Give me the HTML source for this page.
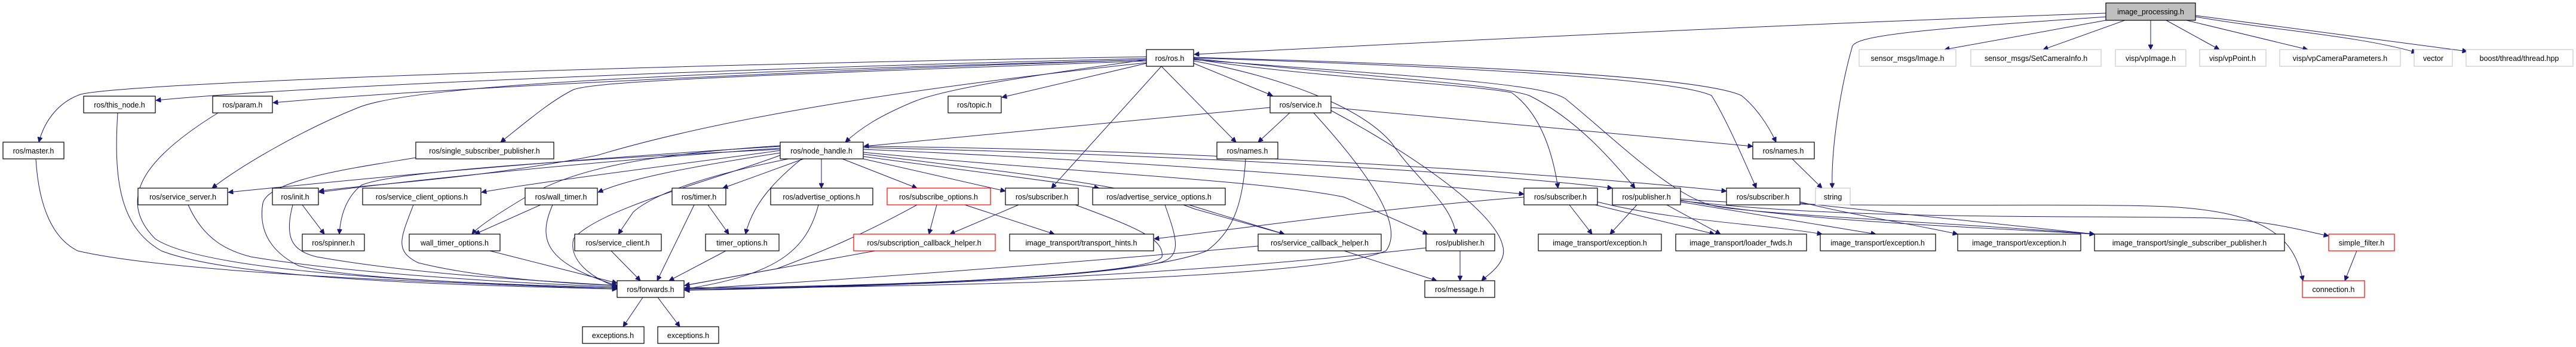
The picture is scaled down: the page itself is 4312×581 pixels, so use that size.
<!DOCTYPE html>
<html><head><meta charset="utf-8"><style>
html,body{margin:0;padding:0;background:#fff;}
svg{display:block;}
text{font-family:"Liberation Sans",sans-serif;font-size:12.5px;fill:#000;text-anchor:middle;}
.n{fill:#fff;stroke:#000;stroke-width:1.2;}
.g{fill:#fff;stroke:#bfbfbf;stroke-width:1;}
.r{fill:#fff;stroke:#ff0000;stroke-width:1.2;}
path{fill:none;stroke:#191970;stroke-width:1;marker-end:url(#a);}
</style></head><body>
<svg width="4312" height="581" viewBox="0 0 4312 581" xmlns="http://www.w3.org/2000/svg">
<defs><marker id="a" viewBox="0 0 10 10" refX="10" refY="5" markerWidth="10" markerHeight="8" markerUnits="userSpaceOnUse" orient="auto"><path d="M0,0 L10,5 L0,10 z" style="fill:#191970;stroke:#191970;marker-end:none"/></marker></defs>
<g>
<path d="M3525,22 C3000,40 2400,70 1999,91"/>
<path d="M3528,28 C3200,50 3100,60 3100,80 C3080,150 3065,250 3067,315"/>
<path d="M3525,34 L3255,83"/>
<path d="M3557,34 L3420,83"/>
<path d="M3600,34 L3600,83"/>
<path d="M3626,34 L3715,83"/>
<path d="M3660,34 L3863,83"/>
<path d="M3675,28 C3800,50 3950,60 4045,88"/>
<path d="M3675,26 L4130,86"/>
<path d="M1919,95 C1000,110 200,140 135,158 C100,170 75,200 65,238"/>
<path d="M1919,98 C1200,115 500,145 261,168"/>
<path d="M1919,100 C1300,120 700,150 457,172"/>
<path d="M1919,100 C1200,120 700,140 600,180 C500,220 400,280 355,315"/>
<path d="M1919,102 C1300,125 1000,135 960,150 C920,170 880,205 838,238"/>
<path d="M1919,105 C1500,150 1200,200 1000,260 C800,300 600,310 534,320"/>
<path d="M1919,100 C1700,130 1580,150 1530,170 C1470,195 1440,215 1415,238"/>
<path d="M1919,106 L1677,163"/>
<path d="M1998,106 L2130,160"/>
<path d="M1944,111 L2069,238"/>
<path d="M1944,111 L1760,315"/>
<path d="M1998,102 C2150,130 2280,180 2330,240 C2370,300 2430,340 2437,392"/>
<path d="M1998,99 C2200,130 2450,140 2530,155 C2580,190 2600,260 2608,315"/>
<path d="M1998,98 C2300,130 2500,140 2560,160 C2640,200 2700,270 2737,315"/>
<path d="M1998,97 C2400,110 2800,130 2865,160 C2890,200 2920,270 2940,315"/>
<path d="M1998,96 C2500,110 2850,130 2915,160 C2940,180 2960,210 2973,238"/>
<path d="M1998,100 C2400,130 2580,140 2620,165 C2700,230 2800,330 2870,345 C2950,360 3300,375 3506,392"/>
<path d="M1306,245 C900,270 600,300 382,322"/>
<path d="M1306,248 C1000,270 700,300 534,322"/>
<path d="M1306,250 C900,270 650,290 605,310 C580,330 570,360 568,392"/>
<path d="M1306,252 C1100,280 900,305 806,322"/>
<path d="M1306,256 C1150,280 1050,300 1001,322"/>
<path d="M1306,244 C1050,260 950,290 880,330 C830,360 800,380 790,392"/>
<path d="M1320,266 C1200,290 1100,320 1060,355 L1035,392"/>
<path d="M1306,260 C1200,300 1000,350 960,400 C950,440 1000,470 1033,480"/>
<path d="M1345,266 L1210,315"/>
<path d="M1342,266 C1300,300 1260,340 1248,392"/>
<path d="M1375,266 L1375,315"/>
<path d="M1410,266 L1535,315"/>
<path d="M1445,266 L1683,320"/>
<path d="M1445,262 L1840,315"/>
<path d="M1445,258 C1700,290 1900,310 2000,350 L2150,392"/>
<path d="M1445,255 C1800,290 2100,300 2250,330 L2390,392"/>
<path d="M1445,250 C1900,270 2300,300 2551,325"/>
<path d="M1445,247 C2000,260 2500,290 2699,315"/>
<path d="M1445,245 C2000,250 2600,290 2890,320"/>
<path d="M2126,180 L1446,245"/>
<path d="M2160,188 L2106,238"/>
<path d="M2228,180 L2934,245"/>
<path d="M2198,188 C2300,300 2350,380 2320,420 C2200,470 1500,480 1146,484"/>
<path d="M2228,185 C2350,250 2500,350 2515,410 C2525,440 2490,460 2480,470"/>
<path d="M2085,266 C2080,350 2060,390 2020,420 C1900,470 1400,480 1146,482"/>
<path d="M3000,266 L3050,315"/>
<path d="M1705,343 L1590,392"/>
<path d="M1800,343 C1900,380 1950,400 1945,430 C1930,460 1500,480 1146,484"/>
<path d="M1568,343 L1555,392"/>
<path d="M1615,343 L1765,392"/>
<path d="M1535,343 C1450,390 1380,420 1300,450 L1146,478"/>
<path d="M1370,343 C1350,420 1300,460 1146,484"/>
<path d="M1950,343 C1970,400 1980,430 1940,440 C1800,470 1400,480 1146,486"/>
<path d="M1990,343 L2150,392"/>
<path d="M1162,343 L1100,470"/>
<path d="M1185,343 L1220,392"/>
<path d="M1215,420 L1120,470"/>
<path d="M1023,420 L1072,470"/>
<path d="M1465,420 L1146,478"/>
<path d="M2106,412 C1800,440 1400,470 1146,484"/>
<path d="M2250,420 L2405,470"/>
<path d="M2387,415 C2000,460 1500,480 1146,486"/>
<path d="M2444,420 L2444,470"/>
<path d="M2551,330 C2300,350 2100,380 1932,400"/>
<path d="M2627,343 L2665,392"/>
<path d="M2670,343 L2870,392"/>
<path d="M2674,338 C2800,370 2950,375 3050,392"/>
<path d="M2740,343 L2695,392"/>
<path d="M2790,343 L2880,392"/>
<path d="M2813,338 L3140,392"/>
<path d="M2813,335 C3000,370 3300,380 3506,392"/>
<path d="M2813,333 C3000,350 3400,340 3600,345 C3800,350 3840,400 3855,470"/>
<path d="M2813,336 C3100,370 3500,360 3700,365 C3800,370 3850,385 3898,395"/>
<path d="M3013,338 C3100,360 3200,375 3277,392"/>
<path d="M3013,340 L3506,392"/>
<path d="M3945,420 L3925,470"/>
<path d="M60,266 C65,350 90,400 130,420 C300,460 800,475 1033,484"/>
<path d="M197,189 C190,300 200,380 270,420 C400,470 800,478 1033,484"/>
<path d="M365,189 C250,260 190,330 260,400 C350,460 800,476 1033,482"/>
<path d="M696,264 C600,280 450,300 440,340 C430,400 470,430 500,445 C600,470 900,478 1033,482"/>
<path d="M315,343 C340,400 380,420 420,430 C600,460 900,476 1033,480"/>
<path d="M490,343 C475,400 490,420 530,430 C700,460 900,470 1033,478"/>
<path d="M506,343 L543,392"/>
<path d="M692,343 C670,400 660,420 700,440 C800,465 950,475 1033,478"/>
<path d="M905,343 L795,392"/>
<path d="M925,343 C900,400 910,440 1033,478"/>
<path d="M820,420 L1033,474"/>
<path d="M1076,498 L1043,547"/>
<path d="M1101,498 L1138,547"/>
</g>
<g>
<rect x="3525" y="5" width="150" height="29" style="fill:#bfbfbf;stroke:#000;stroke-width:1.2"/><text x="3600" y="24">image_processing.h</text>
<rect class="n" x="1919" y="83" width="79" height="28"/><text x="1958" y="102">ros/ros.h</text>
<rect class="g" x="3112" y="83" width="162" height="28"/><text x="3193" y="102">sensor_msgs/Image.h</text>
<rect class="g" x="3299" y="83" width="218" height="28"/><text x="3408" y="102">sensor_msgs/SetCameraInfo.h</text>
<rect class="g" x="3541" y="83" width="118" height="28"/><text x="3600" y="102">visp/vpImage.h</text>
<rect class="g" x="3682" y="83" width="111" height="28"/><text x="3737" y="102">visp/vpPoint.h</text>
<rect class="g" x="3816" y="83" width="202" height="28"/><text x="3917" y="102">visp/vpCameraParameters.h</text>
<rect class="g" x="4041" y="83" width="64" height="28"/><text x="4073" y="102">vector</text>
<rect class="g" x="4128" y="83" width="179" height="28"/><text x="4217" y="102">boost/thread/thread.hpp</text>
<rect class="n" x="140" y="161" width="120" height="28"/><text x="200" y="180">ros/this_node.h</text>
<rect class="n" x="356" y="161" width="100" height="28"/><text x="406" y="180">ros/param.h</text>
<rect class="n" x="1587" y="161" width="89" height="28"/><text x="1631" y="180">ros/topic.h</text>
<rect class="n" x="2126" y="161" width="102" height="28"/><text x="2177" y="180">ros/service.h</text>
<rect class="n" x="5" y="238" width="102" height="28"/><text x="56" y="257">ros/master.h</text>
<rect class="n" x="696" y="238" width="231" height="28"/><text x="811" y="257">ros/single_subscriber_publisher.h</text>
<rect class="n" x="1306" y="238" width="139" height="28"/><text x="1375" y="257">ros/node_handle.h</text>
<rect class="n" x="2037" y="238" width="102" height="28"/><text x="2088" y="257">ros/names.h</text>
<rect class="n" x="2934" y="238" width="103" height="28"/><text x="2985" y="257">ros/names.h</text>
<rect class="n" x="231" y="315" width="150" height="28"/><text x="306" y="334">ros/service_server.h</text>
<rect class="n" x="456" y="315" width="77" height="28"/><text x="494" y="334">ros/init.h</text>
<rect class="n" x="607" y="315" width="198" height="28"/><text x="706" y="334">ros/service_client_options.h</text>
<rect class="n" x="879" y="315" width="121" height="28"/><text x="939" y="334">ros/wall_timer.h</text>
<rect class="n" x="1125" y="315" width="90" height="28"/><text x="1170" y="334">ros/timer.h</text>
<rect class="n" x="1290" y="315" width="171" height="28"/><text x="1375" y="334">ros/advertise_options.h</text>
<rect class="r" x="1485" y="315" width="173" height="28"/><text x="1571" y="334">ros/subscribe_options.h</text>
<rect class="n" x="1683" y="315" width="122" height="28"/><text x="1744" y="334">ros/subscriber.h</text>
<rect class="n" x="1829" y="315" width="222" height="28"/><text x="1940" y="334">ros/advertise_service_options.h</text>
<rect class="n" x="2551" y="315" width="123" height="28"/><text x="2612" y="334">ros/subscriber.h</text>
<rect class="n" x="2699" y="315" width="114" height="28"/><text x="2756" y="334">ros/publisher.h</text>
<rect class="n" x="2890" y="315" width="123" height="28"/><text x="2951" y="334">ros/subscriber.h</text>
<rect class="g" x="3039" y="315" width="58" height="28"/><text x="3068" y="334">string</text>
<rect class="n" x="506" y="392" width="104" height="28"/><text x="558" y="411">ros/spinner.h</text>
<rect class="n" x="685" y="392" width="152" height="28"/><text x="761" y="411">wall_timer_options.h</text>
<rect class="n" x="962" y="392" width="145" height="28"/><text x="1034" y="411">ros/service_client.h</text>
<rect class="n" x="1181" y="392" width="123" height="28"/><text x="1242" y="411">timer_options.h</text>
<rect class="r" x="1429" y="392" width="237" height="28"/><text x="1547" y="411">ros/subscription_callback_helper.h</text>
<rect class="n" x="1690" y="392" width="241" height="28"/><text x="1810" y="411">image_transport/transport_hints.h</text>
<rect class="n" x="2106" y="392" width="206" height="28"/><text x="2209" y="411">ros/service_callback_helper.h</text>
<rect class="n" x="2387" y="392" width="115" height="28"/><text x="2444" y="411">ros/publisher.h</text>
<rect class="n" x="2575" y="392" width="206" height="28"/><text x="2678" y="411">image_transport/exception.h</text>
<rect class="n" x="2805" y="392" width="219" height="28"/><text x="2914" y="411">image_transport/loader_fwds.h</text>
<rect class="n" x="3047" y="392" width="193" height="28"/><text x="3143" y="411">image_transport/exception.h</text>
<rect class="n" x="3277" y="392" width="206" height="28"/><text x="3380" y="411">image_transport/exception.h</text>
<rect class="n" x="3506" y="392" width="318" height="28"/><text x="3665" y="411">image_transport/single_subscriber_publisher.h</text>
<rect class="r" x="3898" y="392" width="110" height="28"/><text x="3953" y="411">simple_filter.h</text>
<rect class="n" x="1033" y="470" width="112" height="28"/><text x="1089" y="489">ros/forwards.h</text>
<rect class="n" x="2385" y="470" width="117" height="28"/><text x="2443" y="489">ros/message.h</text>
<rect class="r" x="3854" y="470" width="104" height="28"/><text x="3906" y="489">connection.h</text>
<rect class="n" x="975" y="547" width="103" height="28"/><text x="1026" y="566">exceptions.h</text>
<rect class="n" x="1101" y="547" width="102" height="28"/><text x="1152" y="566">exceptions.h</text>
</g>
</svg>
</body></html>
